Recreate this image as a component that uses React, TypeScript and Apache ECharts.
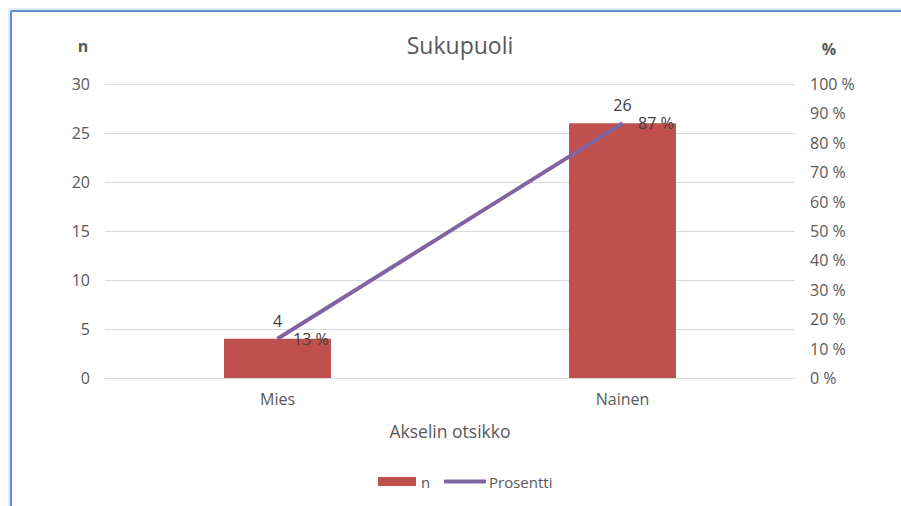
import React, { useEffect, useRef } from "react";
import * as echarts from "echarts";

const categories = ["Mies", "Nainen"];
const countValues = [4, 26];
const percentValues = [13.33, 86.67];
const leftTicks = { min: 0, max: 30, interval: 5 };
const rightTicks = { min: 0, max: 100, interval: 10 };

const FONT = "'Open Sans', Lato, sans-serif";
const TXT = "#595959";

export default function App() {
  const ref = useRef<HTMLDivElement>(null);
  useEffect(() => {
    document.body.style.margin = "0";
    const chart = echarts.init(ref.current!, null, { renderer: "svg" });
    chart.setOption({
      animation: false,
      backgroundColor: "#ffffff",
      textStyle: { fontFamily: FONT },
      title: {
        text: "Sukupuoli",
        left: 455,
        top: 28,
        textAlign: "center",
        textStyle: { fontFamily: FONT, fontSize: 23, fontWeight: "normal", color: TXT },
      },
      grid: { left: 105, right: 106, top: 84, bottom: 128, containLabel: false },
      legend: [
        {
          bottom: 12,
          left: 373,
          itemWidth: 38,
          itemHeight: 9,
          itemGap: 16,
          textStyle: { fontFamily: FONT, fontSize: 15, color: TXT },
          data: [{ name: "n", icon: "rect" }],
        },
        {
          bottom: 12,
          left: 439,
          itemWidth: 42,
          itemHeight: 4,
          itemGap: 16,
          textStyle: { fontFamily: FONT, fontSize: 15, color: TXT, padding: [0, 0, 0, -2] },
          data: [{ name: "Prosentti", icon: "roundRect", itemStyle: { color: "#8064A2" } }],
        },
      ],
      graphic: [
        { type: "line", shape: { x1: 11, y1: 11, x2: 11, y2: 506 }, style: { stroke: "#5B8FD6", lineWidth: 2 } },
        { type: "line", shape: { x1: 11, y1: 11, x2: 901, y2: 11 }, style: { stroke: "#5B8FD6", lineWidth: 2 } },
        { type: "line", shape: { x1: 9, y1: 9, x2: 9, y2: 506 }, style: { stroke: "#C9DAF0", lineWidth: 1 } },
        { type: "line", shape: { x1: 9, y1: 9, x2: 901, y2: 9 }, style: { stroke: "#C9DAF0", lineWidth: 1 } },
      ],
      xAxis: {
        type: "category",
        data: categories,
        name: "Akselin otsikko",
        nameLocation: "middle",
        nameGap: 44,
        nameTextStyle: { fontFamily: FONT, fontSize: 17.5, color: TXT },
        axisLine: { show: true, lineStyle: { color: "#D9D9D9", width: 1 } },
        axisTick: { show: false },
        axisLabel: { fontFamily: FONT, fontSize: 16, color: TXT, margin: 13 },
      },
      yAxis: [
        {
          type: "value",
          min: leftTicks.min,
          max: leftTicks.max,
          interval: leftTicks.interval,
          name: "n",
          nameGap: 30,
          nameTextStyle: { fontFamily: FONT, fontSize: 16, fontWeight: "bold", color: TXT, align: "center", padding: [0, 44, 0, 0] },
          axisLine: { show: false },
          axisTick: { show: false },
          axisLabel: { fontFamily: FONT, fontSize: 16, color: TXT, margin: 15 },
          splitLine: { show: true, lineStyle: { color: "#D9D9D9", width: 1 } },
        },
        {
          type: "value",
          min: rightTicks.min,
          max: rightTicks.max,
          interval: rightTicks.interval,
          name: "%",
          nameGap: 27,
          nameTextStyle: { fontFamily: FONT, fontSize: 16, fontWeight: "bold", color: TXT, align: "center", padding: [0, 0, 0, 68] },
          axisLine: { show: false },
          axisTick: { show: false },
          axisLabel: { fontFamily: FONT, fontSize: 16, color: TXT, margin: 15, formatter: "{value} %" },
          splitLine: { show: false },
        },
      ],
      series: [
        {
          name: "n",
          type: "bar",
          data: countValues,
          barWidth: "31%",
          itemStyle: { color: "#C0504D" },
          label: { show: true, position: "top", distance: 10, fontFamily: FONT, fontSize: 16, color: "#404040" },
        },
        {
          name: "Prosentti",
          type: "line",
          yAxisIndex: 1,
          data: percentValues,
          symbol: "circle",
          symbolSize: 1,
          showSymbol: true,
          lineStyle: { color: "#8064A2", width: 4 },
          itemStyle: { color: "#8064A2" },
          label: {
            show: true,
            position: "right",
            distance: 15,
            fontFamily: FONT,
            fontSize: 16,
            color: "#404040",
            formatter: (p: any) => Math.round(p.value) + " %",
          },
        },
      ],
    });
    return () => chart.dispose();
  }, []);
  return <div ref={ref} style={{ position: "absolute", left: 0, top: 0, width: 901, height: 506 }} />;
}
